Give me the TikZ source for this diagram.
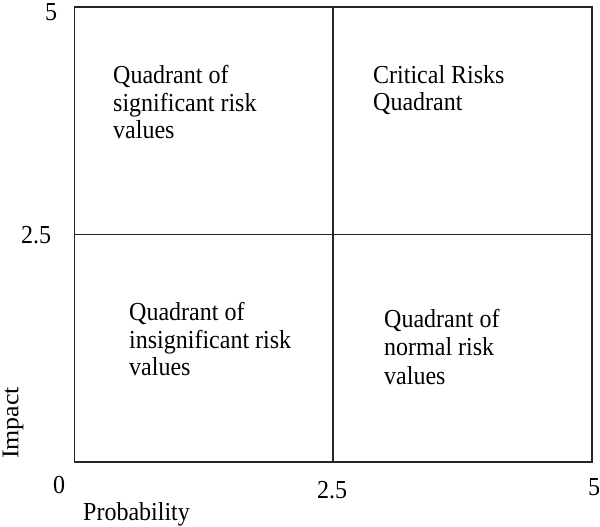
\documentclass[tikz,border=0pt]{standalone}
\usepackage{fontspec}
\setmainfont{Liberation Serif}
\begin{document}
\begin{tikzpicture}[x=1pt,y=-1pt,
  grid/.style={line width=1.3pt,draw=black!85},
  txt/.style={inner sep=0pt,yscale=1.08,transform shape,
    font=\fontsize{24}{25.6}\selectfont},
  quad/.style={txt,anchor=north west,align=left},
  axlabel/.style={txt}]
  \useasboundingbox (0,0) rectangle (600,527);

  % risk matrix frame and quadrant dividers
  \draw[grid] (74.5,7) rectangle (592,462);
  \draw[grid] (333,7) -- (333,462);
  \draw[grid] (74.5,234.5) -- (592,234.5);

  % quadrant captions
  \node[quad] (sig)  at (113,65)  {Quadrant of\\significant risk\\values};
  \node[quad] (crit) at (373,65)  {Critical Risks\\Quadrant};
  \node[quad] (ins)  at (129,302) {Quadrant of\\insignificant risk\\values};
  \node[quad,font=\fontsize{24}{26.4}\selectfont] (norm) at (384,309)
    {Quadrant of\\normal risk\\values};

  % axis ticks
  \node[axlabel] (y5)   at (51,12)   {5};
  \node[axlabel] (y25)  at (36,235)  {2.5};
  \node[axlabel] (y0)   at (59,485)  {0};
  \node[axlabel] (x25)  at (332,490) {2.5};
  \node[axlabel] (x5)   at (594,487) {5};

  % axis titles
  \node[axlabel,anchor=base west] (xt) at (83,520) {Probability};
  \node[axlabel,rotate=90] (yt) at (13,423) {Impact};
\end{tikzpicture}
\end{document}
